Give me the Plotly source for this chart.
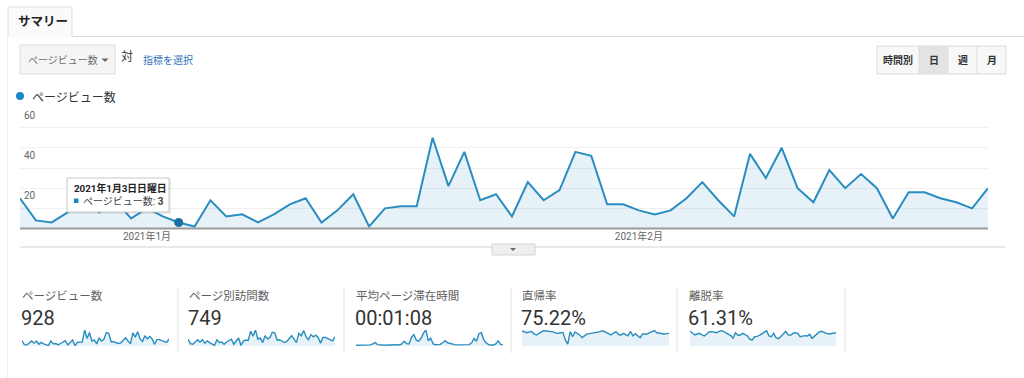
import pandas as pd
import plotly.graph_objects as go

# ---------------- data ----------------
start_date = "2020-12-24"
page_views = [15, 4, 3, 8, 14, 8, 14, 5, 10, 6,
              3, 1, 14, 6, 7, 3, 7, 12, 15, 3,
              9, 17, 1, 10, 11, 11, 45, 21, 38, 14,
              17, 6, 23, 14, 19, 38, 36, 12, 12, 9,
              7, 9, 15, 23, 14, 6, 37, 25, 40, 20,
              13, 29, 20, 27, 20, 5, 18, 18, 15, 13,
              10, 20]
page_visits = [12, 4, 3, 7, 11, 7, 11, 5, 9, 6,
               3, 1, 11, 6, 7, 3, 7, 10, 12, 3,
               8, 14, 1, 9, 10, 10, 26, 17, 28, 12,
               14, 6, 18, 12, 15, 24, 23, 10, 11, 8,
               6, 8, 13, 18, 12, 6, 22, 18, 27, 16,
               11, 20, 16, 19, 15, 5, 15, 15, 13, 11,
               9, 16]
avg_time_sec = [15, 18, 20, 15, 20, 18, 22, 40, 62, 25,
                18, 20, 15, 22, 18, 20, 25, 22, 20, 40,
                90, 45, 38, 160, 215, 110, 90, 144, 240, 300,
                100, 144, 40, 25, 22, 30, 60, 100, 60, 45,
                30, 25, 22, 20, 25, 22, 18, 25, 60, 140,
                90, 230, 250, 120, 60, 25, 20, 18, 40, 95,
                30, 20]
bounce_rate = [94, 88, 83, 88, 90, 75, 69, 79, 88, 96,
               94, 92, 90, 88, 81, 79, 83, 85, 38, 12,
               90, 58, 88, 79, 67, 52, 63, 75, 77, 79,
               81, 83, 88, 94, 92, 83, 75, 69, 81, 90,
               73, 67, 79, 69, 63, 92, 63, 77, 67, 52,
               75, 77, 75, 83, 88, 96, 83, 79, 77, 75,
               77, 79]
exit_rate = [94, 81, 69, 75, 79, 69, 63, 75, 88, 90,
             85, 83, 90, 96, 92, 83, 73, 65, 48, 83,
             67, 69, 79, 71, 63, 42, 38, 58, 60, 67,
             75, 83, 96, 63, 58, 79, 50, 46, 58, 75,
             92, 69, 67, 79, 83, 79, 58, 63, 65, 63,
             73, 48, 63, 79, 88, 92, 83, 79, 75, 77,
             79, 83]

summary_labels = ["ページビュー数", "ページ別訪問数", "平均ページ滞在時間", "直帰率", "離脱率"]
summary_values = ["928", "749", "00:01:08", "75.22%", "61.31%"]
month_ticks = ["2021-01-01", "2021-02-01"]
month_labels = ["2021年1月", "2021年2月"]
y_tick_labels = [60, 40, 20]
hover_date = "2021-01-03"
hover_title = "2021年1月3日日曜日"
metric_name = "ページビュー数"
period_buttons = ["時間別", "日", "週", "月"]
tab_label = "サマリー"

# ---------------- style ----------------
W, H = 1024, 378
BLUE = "#2a8dc0"
FILL = "rgba(31,139,194,0.11)"
FONT = "Roboto, 'Noto Sans CJK JP', sans-serif"


def px(x):
    return x / W


def py(y):
    return 1 - y / H


dates = pd.date_range(start_date, periods=len(page_views), freq="D")

fig = go.Figure()

# main area chart
fig.add_trace(go.Scatter(
    x=dates, y=page_views, mode="lines", fill="tozeroy",
    line=dict(color=BLUE, width=2), fillcolor=FILL,
    xaxis="x", yaxis="y", hoverinfo="skip", showlegend=False))

hover_idx = list(dates).index(pd.Timestamp(hover_date))
fig.add_trace(go.Scatter(
    x=[dates[hover_idx]], y=[page_views[hover_idx]], mode="markers",
    marker=dict(color="#1b6fa5", size=9), xaxis="x", yaxis="y",
    hoverinfo="skip", showlegend=False))

# sparklines
spark_series = [page_views, page_visits, avg_time_sec, bounce_rate, exit_rate]
spark_x = [(22, 169), (188, 335), (356, 503), (522, 669), (690, 836)]
spark_max = [45, 28, 300, 100, 100]
layout_axes = {}
for k, (series, (x0, x1), mx) in enumerate(zip(spark_series, spark_x, spark_max)):
    n = k + 2
    fig.add_trace(go.Scatter(
        x=dates, y=series, mode="lines", fill="tozeroy",
        line=dict(color=BLUE, width=1.4), fillcolor=FILL,
        xaxis=f"x{n}", yaxis=f"y{n}", hoverinfo="skip", showlegend=False))
    layout_axes[f"xaxis{n}"] = dict(domain=[px(x0), px(x1)], range=[dates[0], dates[-1]],
                                    visible=False, anchor=f"y{n}")
    layout_axes[f"yaxis{n}"] = dict(domain=[py(346), py(330)], range=[0, mx],
                                    visible=False, anchor=f"x{n}")

shapes = []
# page frame / tab
shapes.append(dict(type="line", xref="paper", yref="paper", x0=px(72), x1=1, y0=py(36.5), y1=py(36.5),
                   line=dict(color="#dddddd", width=1)))
shapes.append(dict(type="rect", xref="paper", yref="paper", x0=px(8), x1=px(72), y0=py(37), y1=py(7),
                   fillcolor="#fafafa", line=dict(width=0), layer="below"))
shapes.append(dict(type="path", xref="paper", yref="paper",
                   path=f"M {px(8)},{py(37)} L {px(8)},{py(7)} L {px(72)},{py(7)} L {px(72)},{py(37)}",
                   line=dict(color="#dddddd", width=1)))
shapes.append(dict(type="line", xref="paper", yref="paper", x0=px(7.5), x1=px(7.5), y0=py(37), y1=0,
                   line=dict(color="#eeeeee", width=1)))
# dropdown
shapes.append(dict(type="rect", xref="paper", yref="paper", x0=px(20), x1=px(115), y0=py(74), y1=py(45),
                   fillcolor="#f5f5f5", line=dict(color="#dcdcdc", width=1)))
shapes.append(dict(type="path", xref="paper", yref="paper",
                   path=f"M {px(101.5)},{py(58.5)} L {px(108.5)},{py(58.5)} L {px(105)},{py(62)} Z",
                   fillcolor="#666666", line=dict(width=0)))
# period buttons
shapes.append(dict(type="rect", xref="paper", yref="paper", x0=px(877), x1=px(1006), y0=py(74), y1=py(46),
                   fillcolor="#f8f8f8", line=dict(color="#dcdcdc", width=1)))
shapes.append(dict(type="rect", xref="paper", yref="paper", x0=px(919), x1=px(948), y0=py(74), y1=py(46),
                   fillcolor="#e3e3e3", line=dict(width=0)))
for sx in [919, 948, 977]:
    shapes.append(dict(type="line", xref="paper", yref="paper", x0=px(sx), x1=px(sx), y0=py(74), y1=py(46),
                       line=dict(color="#dcdcdc", width=1)))
# legend dot
shapes.append(dict(type="circle", xref="paper", yref="paper", x0=px(16), x1=px(24), y0=py(100), y1=py(92),
                   fillcolor="#1a88c9", line=dict(width=0)))
# baseline under chart
shapes.append(dict(type="line", xref="paper", yref="paper", x0=px(20), x1=px(988), y0=py(228.5), y1=py(228.5),
                   line=dict(color="#9a9a9a", width=2)))
# lower separator + toggle
shapes.append(dict(type="line", xref="paper", yref="paper", x0=px(20), x1=px(1005), y0=py(247), y1=py(247),
                   line=dict(color="#e2e2e2", width=1.5)))
shapes.append(dict(type="rect", xref="paper", yref="paper", x0=px(492), x1=px(535), y0=py(255), y1=py(244),
                   fillcolor="#eeeeee", line=dict(color="#d4d4d4", width=1)))
shapes.append(dict(type="path", xref="paper", yref="paper",
                   path=f"M {px(510)},{py(248)} L {px(516)},{py(248)} L {px(513)},{py(251)} Z",
                   fillcolor="#666666", line=dict(width=0)))
# tooltip
shapes.append(dict(type="rect", xref="paper", yref="paper", x0=px(68), x1=px(171), y0=py(214), y1=py(179),
                   fillcolor="rgba(0,0,0,0.08)", line=dict(width=0)))
shapes.append(dict(type="rect", xref="paper", yref="paper", x0=px(67), x1=px(169), y0=py(212), y1=py(178),
                   fillcolor="#ffffff", line=dict(color="#c8c8c8", width=1)))
shapes.append(dict(type="rect", xref="paper", yref="paper", x0=px(74), x1=px(78.5), y0=py(203), y1=py(198.5),
                   fillcolor="#1a88c9", line=dict(width=0)))
# summary separators
for sx in [178, 344, 511, 677, 845]:
    shapes.append(dict(type="line", xref="paper", yref="paper", x0=px(sx), x1=px(sx), y0=py(353), y1=py(288),
                       line=dict(color="#e3e3e3", width=1)))

ann = []


def text(x, y, s, size, color="#333333", xanchor="left", bold=False, yanchor="middle"):
    ann.append(dict(x=px(x), y=py(y), xref="paper", yref="paper", text=f"<b>{s}</b>" if bold else s,
                    showarrow=False, xanchor=xanchor, yanchor=yanchor,
                    font=dict(family=FONT, size=size, color=color)))


text(16, 22, tab_label, 12.5, "#222222", bold=True)
text(26, 60, metric_name, 10, "#707070")
text(119, 57, "対", 12, "#333333")
text(141, 60, "指標を選択", 10, "#2f72b5")
for label, cx in zip(period_buttons, [898, 933.5, 962.5, 991.5]):
    text(cx, 60, label, 10, "#333333", xanchor="center", bold=True)
text(30, 97, metric_name, 12, "#333333")
for v in y_tick_labels:
    ann.append(dict(x=px(22), y=v, xref="paper", yref="y", text=str(v), showarrow=False,
                    xanchor="left", yanchor="top", yshift=0,
                    font=dict(family=FONT, size=10, color="#666666")))
text(72, 188.5, hover_title, 9.8, "#222222", bold=True)
text(80.5, 201, f"{metric_name}: <b>{page_views[hover_idx]}</b>", 10, "#444444")
for label, value, sx in zip(summary_labels, summary_values, [20, 187, 354, 520, 687]):
    text(sx, 296, label, 11.5, "#606060")
    text(sx - 1, 318, value, 20, "#333333")

layout = dict(
    width=W, height=H, margin=dict(l=0, r=0, t=0, b=0),
    paper_bgcolor="white", plot_bgcolor="white",
    font=dict(family=FONT),
    showlegend=False,
    xaxis=dict(domain=[px(20), px(988)], range=[dates[0], dates[-1]], type="date",
               tickvals=pd.to_datetime(month_ticks), ticktext=month_labels,
               ticks="", showgrid=False, zeroline=False, showline=False,
               tickfont=dict(family=FONT, size=10, color="#666666"), anchor="y"),
    yaxis=dict(domain=[py(228.5), py(107.5)], range=[0, 60], dtick=10, showticklabels=False,
               showgrid=True, gridcolor="#f0f0f0", gridwidth=1, zeroline=False, anchor="x"),
    shapes=shapes, annotations=ann, hovermode=False,
)
layout.update(layout_axes)
fig.update_layout(**layout)

fig.write_html("out.html", config={"displayModeBar": False},
               post_script="document.body.style.margin='0';")
